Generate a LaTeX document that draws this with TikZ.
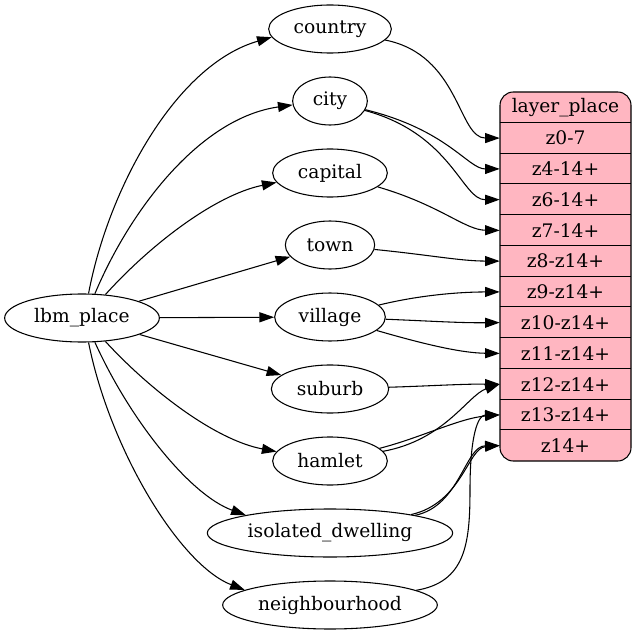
\documentclass[tikz,border=0pt]{standalone}
\usepackage{fontspec}
\setmainfont{DejaVu Serif}
\usetikzlibrary{arrows.meta,shapes.geometric}
\definecolor{recpink}{HTML}{FFB6C1}
\begin{document}
\begin{tikzpicture}[x=0.75pt,y=-0.75pt,
  every node/.style={font=\fontsize{14pt}{16pt}\selectfont},
  el/.style={ellipse,draw,line width=0.8pt,inner sep=0pt,minimum height=36pt},
  fld/.style={inner sep=0pt,minimum width=98.25pt,minimum height=23.06pt},
  conn/.style={draw,line width=0.8pt,-{Triangle[length=11pt,width=7.5pt]}},
]
\useasboundingbox (0,0) rectangle (636,635);

% source node
\node[el,minimum width=116pt] (lbm) at (82,318) {lbm\_place};

% middle nodes
\node[el,minimum width=92pt]  (country) at (330,29)  {country};
\node[el,minimum width=56pt]  (city)    at (330,101) {city};
\node[el,minimum width=86pt]  (capital) at (330,173) {capital};
\node[el,minimum width=67pt]  (town)    at (330,245) {town};
\node[el,minimum width=83pt]  (village) at (330,317) {village};
\node[el,minimum width=88pt]  (suburb)  at (330,389) {suburb};
\node[el,minimum width=86pt]  (hamlet)  at (330,461) {hamlet};
\node[el,minimum width=184pt] (iso)     at (330,533) {isolated\_dwelling};
\node[el,minimum width=161pt] (neigh)   at (330,605) {neighbourhood};

% record node
\node[draw,fill=recpink,rounded corners=10pt,line width=0.8pt,inner sep=0pt,
      minimum width=98.25pt,minimum height=276.75pt] (rec) at (565.5,276.5) {};
\node[fld] (f0)  at (565.5,107.4) {layer\_place};
\node[fld] (f1)  at (565.5,138.1) {z0-7};
\node[fld] (f2)  at (565.5,168.9) {z4-14+};
\node[fld] (f3)  at (565.5,199.6) {z6-14+};
\node[fld] (f4)  at (565.5,230.4) {z7-14+};
\node[fld] (f5)  at (565.5,261.1) {z8-z14+};
\node[fld] (f6)  at (565.5,291.9) {z9-z14+};
\node[fld] (f7)  at (565.5,322.6) {z10-z14+};
\node[fld] (f8)  at (565.5,353.4) {z11-z14+};
\node[fld] (f9)  at (565.5,384.1) {z12-z14+};
\node[fld] (f10) at (565.5,414.9) {z13-z14+};
\node[fld] (f11) at (565.5,445.6) {z14+};
\foreach \k in {1,...,11}
  \draw[line width=0.8pt] (f\k.north west) -- (f\k.north east);

% lbm_place -> middle nodes
\path[conn] (lbm.75) .. controls (108,190) and (175,65) .. (country.188);
\path[conn] (lbm.62) .. controls (130,210) and (200,118) .. (city.186);
\path[conn] (lbm.45) .. controls (150,245) and (215,195) .. (capital.190);
\path[conn] (lbm) -- (town);
\path[conn] (lbm) -- (village);
\path[conn] (lbm) -- (suburb);
\path[conn] (lbm.-45) .. controls (150,390) and (215,440) .. (hamlet.170);
\path[conn] (lbm.-62) .. controls (130,420) and (190,495) .. (iso.168);
\path[conn] (lbm.-75) .. controls (110,450) and (180,565) .. (neigh.170);

% middle nodes -> record fields
\path[conn] (country) .. controls (460,55) and (458,138) .. (f1.west);
\path[conn] (city) .. controls (448,130) and (468,169) .. (f2.west);
\path[conn] (city) .. controls (452,134) and (462,200) .. (f3.west);
\path[conn] (capital) .. controls (440,205) and (465,230) .. (f4.west);
\path[conn] (town) .. controls (430,255) and (460,261) .. (f5.west);
\path[conn] (village) .. controls (420,295) and (460,292) .. (f6.west);
\path[conn] (village) .. controls (430,321) and (460,323) .. (f7.west);
\path[conn] (village) .. controls (420,343) and (460,353) .. (f8.west);
\path[conn] (suburb) .. controls (430,386) and (460,384) .. (f9.west);
\path[conn] (hamlet) .. controls (420,438) and (460,418) .. (f10.west);
\path[conn] (hamlet) .. controls (445,440) and (468,395) .. (f9.west);
\path[conn] (iso) .. controls (460,506) and (465,446) .. (f11.west);
\path[conn] (iso) .. controls (462,503) and (468,448) .. (f11.west);
\path[conn] (neigh) .. controls (465,582) and (470,545) .. (470,490)
            .. controls (470,435) and (478,415) .. (f10.west);
\end{tikzpicture}
\end{document}
